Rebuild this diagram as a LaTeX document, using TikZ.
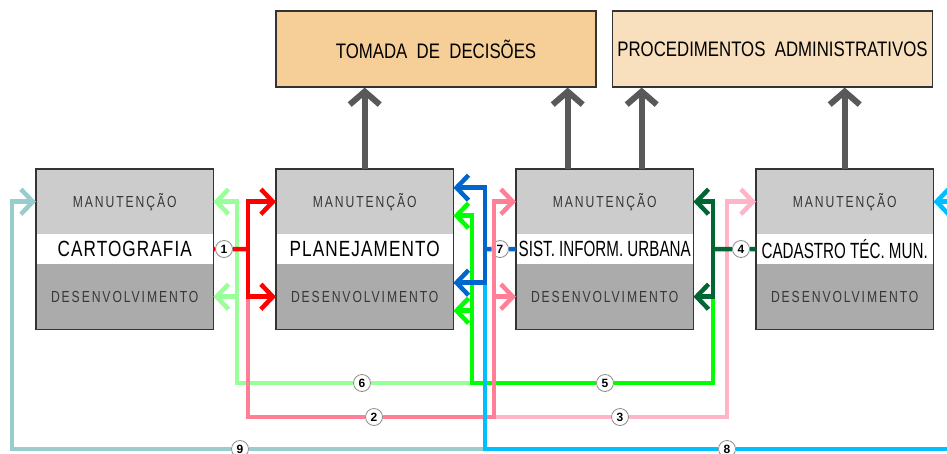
\documentclass[tikz,border=0pt]{standalone}
\usepackage{fontspec}
\setmainfont{Liberation Sans}
\newfontfamily\fonteband[FakeStretch=0.76,LetterSpace=12]{Liberation Sans}
\newfontfamily\fontenome[FakeStretch=0.78,LetterSpace=5]{Liberation Sans}
\newfontfamily\fonteaperto[FakeStretch=0.69]{Liberation Sans}
\newfontfamily\fontetopo[FakeStretch=0.8,WordSpace=2]{Liberation Sans}
\usetikzlibrary{arrows.meta}

\definecolor{laranja}{HTML}{F5CE98}
\definecolor{bege}{HTML}{F8DFBD}
\definecolor{vermelho}{HTML}{FF0000}
\definecolor{salmao}{HTML}{FF8096}
\definecolor{rosa}{HTML}{FFB4C8}
\definecolor{verdeclaro}{HTML}{99FF99}
\definecolor{verde}{HTML}{00FF00}
\definecolor{verdeesc}{HTML}{006633}
\definecolor{azul}{HTML}{0066CC}
\definecolor{celeste}{HTML}{00BFFF}
\definecolor{cinzaazul}{HTML}{99CCCC}

\tikzset{
  banda/.style={minimum width=177pt, minimum height=65pt, inner sep=0pt, text=black!78,
    font=\fonteband\fontsize{16}{18}\selectfont},
  nome/.style={fill=white, minimum width=177pt, minimum height=30pt, inner sep=0pt,
    font=\fontenome\fontsize{22}{24}\selectfont},
  topo/.style={draw=black!80, line width=1.2pt, minimum width=320pt, minimum height=76pt,
    font=\fontetopo\fontsize{21}{23}\selectfont},
  subida/.style={line width=6pt, draw=black!65, -{Straight Barb[length=13pt,width=30pt]}},
  fio/.style={line width=4.5pt},
  ponta/.style={-{Straight Barb[length=12pt,width=25pt]}},
  num/.style={circle, draw=black!45, fill=white, line width=0.8pt, inner sep=0pt,
    minimum size=17pt, font=\bfseries\fontsize{12}{12}\selectfont},
}

% caixa de um modulo: prefixo, x esquerdo, titulo
\newcommand\modulo[3]{%
  \node[banda, fill=black!20, anchor=north west] (#1man) at (#2,169) {MANUTENÇÃO};
  \node[nome, anchor=north west] (#1nom) at (#2,234) {#3};
  \node[banda, fill=black!33, anchor=north west] (#1des) at (#2,264) {DESENVOLVIMENTO};
  \draw[black!80, line width=1.2pt] (#1man.north west) rectangle (#1des.south east);
}

\begin{document}
\begin{tikzpicture}[x=1pt,y=-1pt]
  \useasboundingbox (0,0) rectangle (947,453);
  \clip (0,0) rectangle (947,453);

  %%%%% caixas %%%%%
  \node[topo, fill=laranja] (tomada) at (436,49) {TOMADA DE DECISÕES};
  \node[topo, fill=bege] (proced) at (772.5,49) {PROCEDIMENTOS ADMINISTRATIVOS};

  \modulo{cart}{36}{CARTOGRAFIA}
  \modulo{plan}{276}{PLANEJAMENTO}
  \modulo{sist}{516}{\fonteaperto SIST. INFORM. URBANA}
  \modulo{cad}{756}{\fonteaperto CADASTRO TÉC. MUN.}

  %%%%% subidas %%%%%
  \coordinate (s1) at ([xshift=-37pt]sistman.north);
  \coordinate (s2) at ([xshift=37pt]sistman.north);
  \draw[subida] (planman.north) -- (planman.north |- tomada.south);
  \draw[subida] (s1) -- (s1 |- tomada.south);
  \draw[subida] (s2) -- (s2 |- proced.south);
  \draw[subida] (cadman.north) -- (cadman.north |- proced.south);

  %%%%% numeros %%%%%
  \node[num] (n1) at (224,249) {1};
  \node[num] (n2) at (374,417) {2};
  \node[num] (n3) at (620,417) {3};
  \node[num] (n4) at (741,249) {4};
  \node[num] (n5) at (605,383) {5};
  \node[num] (n6) at (362,383) {6};
  \node[num] (n7) at (500,249) {7};
  \node[num] (n8) at (727,449) {8};
  \node[num] (n9) at (240,449) {9};

  \coordinate (t1) at (248,249);
  \coordinate (t2) at (494,417);
  \coordinate (t3) at (727,417);
  \coordinate (t4) at (713,249);
  \coordinate (t5) at (472,383);
  \coordinate (t6) at (237,383);
  \coordinate (t7) at (485,249);
  \coordinate (t8) at (965,449);
  \coordinate (t9) at (12,449);

  %%%%% ligacoes %%%%%
  % 9
  \draw[fio, cinzaazul] (t7 |- n9) -- (n9);
  \draw[fio, cinzaazul, ponta] (n9) -- (t9) |- (cartman.west);
  % 3
  \draw[fio, rosa] (t2) -- (n3);
  \draw[fio, rosa, ponta] (n3) -- (t3) |- (cadman.west);
  % 6
  \draw[fio, verdeclaro] (t5) -- (n6);
  \draw[fio, verdeclaro, ponta] (n6) -- (t6) |- (cartman.east);
  \draw[fio, verdeclaro, ponta] (t6) |- (cartdes.east);
  % 5
  \draw[fio, verde] (t4 |- sistdes.east) -- (t4 |- n5) -- (n5);
  \draw[fio, verde, ponta] (n5) -- (t5) |- ([yshift=-14pt]planman.east);
  \draw[fio, verde, ponta] (t5) |- ([yshift=-14pt]plandes.east);
  % 2
  \draw[fio, salmao] (t1 |- plandes.west) -- (t1 |- n2) -- (n2);
  \draw[fio, salmao, ponta] (n2) -- (t2) |- (sistman.west);
  \draw[fio, salmao, ponta] (t2) |- (sistdes.west);
  % 8
  \draw[fio, celeste] ([yshift=14pt]t7 |- plandes.east) -- (t7 |- n8) -- (n8);
  \draw[fio, celeste, ponta] (n8) -- (t8) |- (cadman.east);
  % 1
  \draw[fio, vermelho] (cartnom.east) -- (n1) -- (t1);
  \draw[fio, vermelho, ponta] (t1) |- (planman.west);
  \draw[fio, vermelho, ponta] (t1) |- (plandes.west);
  % 4
  \draw[fio, verdeesc] (cadnom.west) -- (n4) -- (t4);
  \draw[fio, verdeesc, ponta] (t4) |- (sistman.east);
  \draw[fio, verdeesc, ponta] (t4) |- (sistdes.east);
  % 7
  \draw[fio, azul] (sistnom.west) -- (n7) -- (t7);
  \draw[fio, azul, ponta] (t7) |- ([yshift=14pt]planman.east);
  \draw[fio, azul, ponta] (t7) |- ([yshift=14pt]plandes.east);
\end{tikzpicture}
\end{document}
